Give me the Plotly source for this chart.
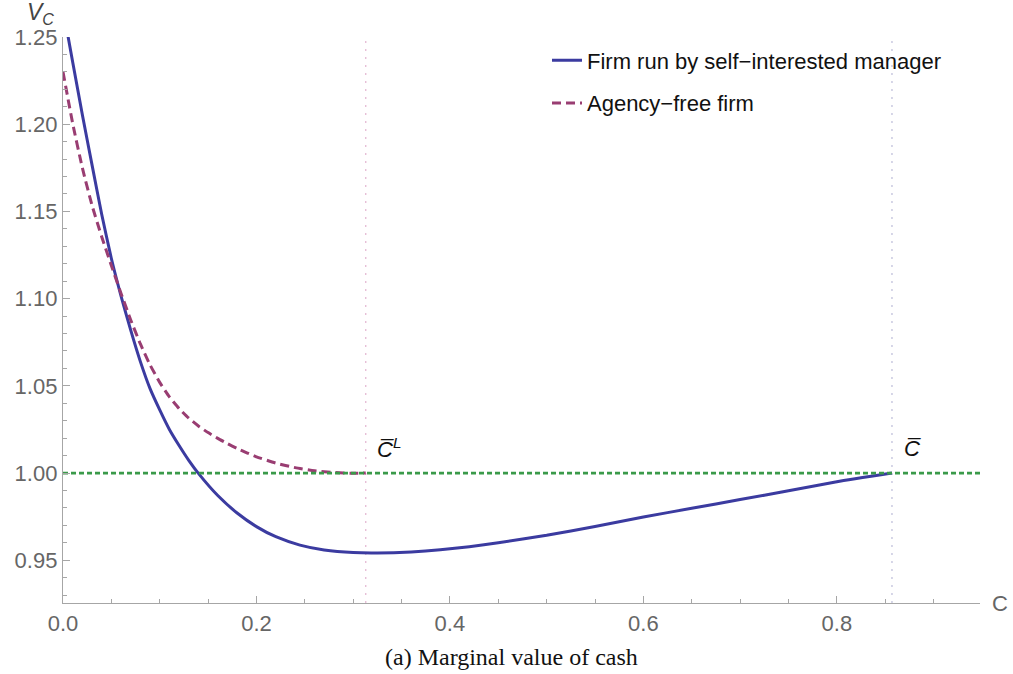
import plotly.graph_objects as go

# ---- data ----
manager_c = [0.0, 0.01, 0.02, 0.03, 0.04, 0.05, 0.06, 0.07, 0.08, 0.09, 0.10, 0.11,
             0.12, 0.13, 0.14, 0.16, 0.18, 0.20, 0.22, 0.245, 0.27, 0.30, 0.325, 0.36,
             0.39, 0.42, 0.45, 0.50, 0.55, 0.60, 0.65, 0.70, 0.75, 0.80, 0.857]
manager_v = [1.2663, 1.2357, 1.2054, 1.1767, 1.1484, 1.1230, 1.1015, 1.0819, 1.0639,
             1.0484, 1.0362, 1.0250, 1.0158, 1.0073, 0.9998, 0.9871, 0.9771, 0.9693,
             0.9635, 0.9587, 0.9559, 0.9544, 0.9542, 0.9548, 0.9560, 0.9578, 0.9600,
             0.9643, 0.9694, 0.9748, 0.9798, 0.9848, 0.9898, 0.9950, 1.0]

agency_c = [0.0, 0.01, 0.02, 0.03, 0.04, 0.05, 0.06, 0.07, 0.08, 0.09, 0.10, 0.11,
            0.12, 0.13, 0.14, 0.15, 0.16, 0.17, 0.18, 0.19, 0.20, 0.22, 0.24, 0.26,
            0.28, 0.30, 0.313]
agency_v = [1.2300, 1.2005, 1.1750, 1.1535, 1.1355, 1.1190, 1.1030, 1.0878, 1.0740,
            1.0620, 1.0520, 1.0437, 1.0370, 1.0315, 1.0270, 1.0232, 1.0199, 1.0169,
            1.0141, 1.0116, 1.0093, 1.0057, 1.0031, 1.0013, 1.0003, 0.9999, 1.0]

C_L = 0.313      # agency-free payout boundary
C_BAR = 0.857    # manager payout boundary
REF_V = 1.0
X_RANGE = [0.0, 0.948]
Y_RANGE = [0.9255, 1.25]

x_tickvals = [0.0, 0.2, 0.4, 0.6, 0.8]
y_tickvals = [0.95, 1.00, 1.05, 1.10, 1.15, 1.20, 1.25]

BLUE = "#3b3ba0"
PURPLE = "#993d72"
GREEN = "#3a9a4a"
AXIS_GRAY = "#a6a6a6"
LABEL_GRAY = "#666666"
SANS = "Liberation Sans, Arial, sans-serif"

fig = go.Figure()

fig.add_trace(go.Scatter(
    x=manager_c, y=manager_v, mode="lines", name="Firm run by self\u2212interested manager",
    line=dict(color=BLUE, width=3, shape="spline", smoothing=0.5),
    legendgroup="a"))
fig.add_trace(go.Scatter(
    x=agency_c, y=agency_v, mode="lines", name="Agency\u2212free firm",
    line=dict(color=PURPLE, width=3, dash="9px,5px", shape="spline", smoothing=0.5),
    legendgroup="b"))
fig.add_trace(go.Scatter(
    x=X_RANGE, y=[REF_V, REF_V], mode="lines", showlegend=False,
    line=dict(color=GREEN, width=2.8, dash="5px,3px"), hoverinfo="skip"))

# vertical dotted boundary markers
fig.add_shape(type="line", xref="x", yref="paper", x0=C_L, x1=C_L, y0=0, y1=1,
              line=dict(color="#e2b4d0", width=1.2, dash="2px,6px"), layer="below")
fig.add_shape(type="line", xref="x", yref="paper", x0=C_BAR, x1=C_BAR, y0=0, y1=1,
              line=dict(color="#bcbcd8", width=1.2, dash="2px,6px"), layer="below")

fig.update_layout(
    width=1013, height=674,
    margin=dict(l=63, r=33, t=37, b=71),
    paper_bgcolor="white", plot_bgcolor="white",
    font=dict(family=SANS, size=22, color=LABEL_GRAY),
    showlegend=True,
    legend=dict(x=0.5278, y=0.9956, xanchor="left", yanchor="top",
                font=dict(family=SANS, size=22, color="#111111"),
                bgcolor="rgba(0,0,0,0)", traceorder="grouped", tracegroupgap=11),
    xaxis=dict(range=X_RANGE, showgrid=False, zeroline=False,
               showline=True, linecolor=AXIS_GRAY, linewidth=1.3,
               ticks="inside", ticklen=7, tickcolor=AXIS_GRAY, tickwidth=1,
               tickvals=x_tickvals, tickformat=".1f",
               tickfont=dict(family=SANS, size=22, color=LABEL_GRAY),
               minor=dict(ticks="inside", ticklen=4, tickcolor=AXIS_GRAY, dtick=0.05,
                          showgrid=False)),
    yaxis=dict(range=Y_RANGE, showgrid=False, zeroline=False,
               showline=True, linecolor=AXIS_GRAY, linewidth=1.3,
               ticks="inside", ticklen=7, tickcolor=AXIS_GRAY, tickwidth=1,
               tickvals=y_tickvals, tickformat=".2f",
               tickfont=dict(family=SANS, size=22, color=LABEL_GRAY),
               minor=dict(ticks="inside", ticklen=4, tickcolor=AXIS_GRAY, dtick=0.01,
                          showgrid=False)),
)

annotations = [
    dict(text="<i>V</i><sub><i>C</i></sub>", xref="paper", yref="paper",
         x=-0.025, y=1.042, xanchor="center", yanchor="middle", showarrow=False,
         font=dict(family=SANS, size=23, color="#444444")),
    dict(text="C", xref="paper", yref="paper", x=1.022, y=0.0,
         xanchor="center", yanchor="middle", showarrow=False,
         font=dict(family=SANS, size=22, color=LABEL_GRAY)),
    dict(text="<i>C\u0305</i><sup><i>L</i></sup>", xref="x", yref="y", x=C_L, y=REF_V,
         xshift=23, yshift=25, xanchor="center", yanchor="middle", showarrow=False,
         font=dict(family=SANS, size=22, color="#111111")),
    dict(text="<i>C\u0305</i>", xref="x", yref="y", x=C_BAR, y=REF_V,
         xshift=21, yshift=25, xanchor="center", yanchor="middle", showarrow=False,
         font=dict(family=SANS, size=22, color="#111111")),
    dict(text="(a) Marginal value of cash", xref="paper", yref="paper",
         x=0.4886, y=-0.0954, xanchor="center", yanchor="middle", showarrow=False,
         font=dict(family="Liberation Serif, DejaVu Serif, serif", size=24, color="#111111")),
]
fig.update_layout(annotations=annotations)

fig.write_html("out.html")
